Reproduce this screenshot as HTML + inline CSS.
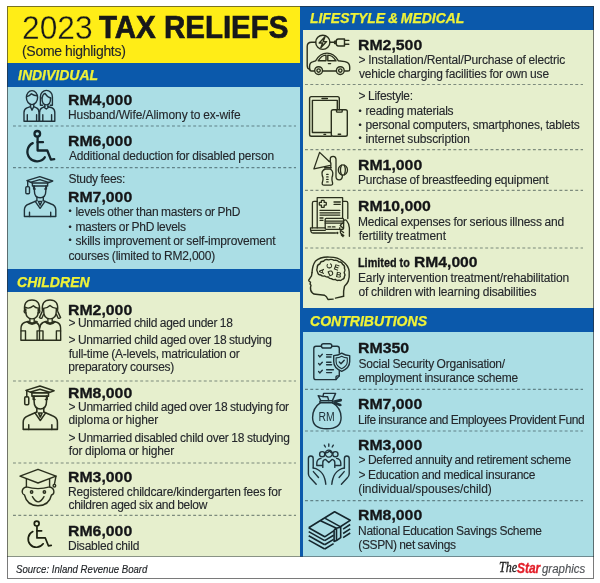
<!DOCTYPE html>
<html lang="en">
<head>
<meta charset="utf-8">
<title>2023 Tax Reliefs</title>
<style>
html,body{margin:0;padding:0;background:#fff;}
body{width:600px;height:583px;position:relative;overflow:hidden;font-family:"Liberation Sans",sans-serif;color:#1d1d1f;}
.frame{position:absolute;left:7px;top:6px;width:587px;height:572.6px;box-sizing:border-box;border:1px solid rgba(40,40,40,.62);z-index:5;}
.blue{position:absolute;left:7px;top:6px;width:587px;height:550.5px;background:#0b59ab;}
.p{position:absolute;}
.yel{left:7px;top:6px;width:293px;height:56.5px;background:#ffed17;}
.lb1{left:7px;top:86.6px;width:293px;height:182.4px;background:#abdee5;}
.lg1{left:7px;top:292px;width:293px;height:264.5px;background:#e6efcd;}
.lg2{left:303px;top:30px;width:291px;height:278px;background:#e6efcd;}
.lb2{left:303px;top:332px;width:291px;height:224.5px;background:#abdee5;}
.foot{left:7px;top:556px;width:587px;height:1px;background:rgba(60,70,75,.55);}
.t{position:absolute;white-space:pre;line-height:1;transform-origin:0 0;}
.r{font-weight:400;color:#24272b;word-spacing:-0.36px;-webkit-text-stroke:0.12px #24272b;}
.b{font-weight:700;color:#141517;-webkit-text-stroke:0.3px #141517;}
.bk{font-weight:700;color:#17181a;-webkit-text-stroke:0.7px #17181a;}
.lt{font-weight:400;color:#17181a;-webkit-text-stroke:0.35px #ffed17;}
.bi{font-weight:700;font-style:italic;word-spacing:-1px;color:#eff238;-webkit-text-stroke:0.25px #eff238;}
.i{font-style:italic;color:#1d2024;-webkit-text-stroke:0.15px #1d2024;}
.the{font-style:italic;font-family:"Liberation Serif",serif;color:#1a1a1a;-webkit-text-stroke:0.3px #1a1a1a;}
.star{font-weight:700;font-style:italic;color:#e3202b;-webkit-text-stroke:0.35px #e3202b;}
.gr{font-style:italic;color:#4d5054;-webkit-text-stroke:0.15px #4d5054;}
.bu{display:inline-block;width:.47em;font-size:.75em;vertical-align:.14em;letter-spacing:0}
svg.dl line{stroke:#1c3034;stroke-opacity:.52;stroke-width:1.2;stroke-dasharray:2.9 2.4;fill:none;}
svg.ic{position:absolute;overflow:visible;fill:none;stroke:#1f2326;stroke-width:1.4;stroke-linecap:round;stroke-linejoin:round;}
</style>
</head>
<body>
<div class="blue"></div>
<div class="p yel"></div>
<div class="p lb1"></div>
<div class="p lg1"></div>
<div class="p lg2"></div>
<div class="p lb2"></div>
<div class="p foot"></div>
<svg class="dl" width="600" height="583" viewBox="0 0 600 583" style="position:absolute;left:0;top:0"><line x1="13" y1="126" x2="296" y2="126"/><line x1="13" y1="167.7" x2="296" y2="167.7"/><line x1="13" y1="381" x2="296" y2="381"/><line x1="13" y1="463" x2="296" y2="463"/><line x1="13" y1="515.3" x2="296" y2="515.3"/><line x1="305" y1="84.5" x2="583" y2="84.5"/><line x1="305" y1="149.7" x2="583" y2="149.7"/><line x1="305" y1="190.4" x2="583" y2="190.4"/><line x1="305" y1="248" x2="583" y2="248"/><line x1="305" y1="389.4" x2="583" y2="389.4"/><line x1="305" y1="431" x2="583" y2="431"/><line x1="305" y1="500.6" x2="583" y2="500.6"/></svg>
<div class="t lt" style="left:22.07px;top:10.90px;font-size:33px;transform:scaleX(0.9609)">2023</div>
<div class="t bk" style="left:99.46px;top:11.50px;font-size:30.5px;transform:scaleX(0.9666)">TAX RELIEFS</div>
<div class="t r" style="left:22.00px;top:43.50px;font-size:14px;letter-spacing:-0.297px">(Some highlights)</div>
<div class="t bi" style="left:17.76px;top:67.80px;font-size:14.8px;transform:scaleX(0.9461)">INDIVIDUAL</div>
<div class="t b" style="left:67.95px;top:91.70px;font-size:15px;transform:scaleX(1.0549)">RM4,000</div>
<div class="t r" style="left:68.00px;top:108.70px;font-size:12px;letter-spacing:-0.092px">Husband/Wife/Alimony to ex-wife</div>
<div class="t b" style="left:67.95px;top:132.80px;font-size:15px;transform:scaleX(1.0549)">RM6,000</div>
<div class="t r" style="left:69.00px;top:149.80px;font-size:12px;letter-spacing:-0.178px">Additional deduction for disabled person</div>
<div class="t r" style="left:68.50px;top:173.40px;font-size:12px;letter-spacing:-0.280px">Study fees:</div>
<div class="t b" style="left:67.95px;top:188.50px;font-size:15px;transform:scaleX(1.0549)">RM7,000</div>
<div class="t r" style="left:68.50px;top:205.70px;font-size:12px;letter-spacing:-0.258px"><span class="bu">•</span> levels other than masters or PhD</div>
<div class="t r" style="left:68.50px;top:221.10px;font-size:12px;letter-spacing:-0.286px"><span class="bu">•</span> masters or PhD levels</div>
<div class="t r" style="left:68.50px;top:234.50px;font-size:12px;letter-spacing:-0.187px"><span class="bu">•</span> skills improvement or self-improvement</div>
<div class="t r" style="left:68.50px;top:249.90px;font-size:12px;letter-spacing:-0.204px">courses (limited to RM2,000)</div>
<div class="t bi" style="left:17.29px;top:275.00px;font-size:14.8px;transform:scaleX(0.9505)">CHILDREN</div>
<div class="t b" style="left:67.95px;top:302.00px;font-size:15px;transform:scaleX(1.0549)">RM2,000</div>
<div class="t r" style="left:68.50px;top:316.50px;font-size:12px;letter-spacing:-0.298px">&gt; Unmarried child aged under 18</div>
<div class="t r" style="left:68.50px;top:333.50px;font-size:12px;letter-spacing:-0.270px">&gt; Unmarried child aged over 18 studying</div>
<div class="t r" style="left:68.75px;top:348.00px;font-size:12px;letter-spacing:-0.243px">full-time (A-levels, matriculation or</div>
<div class="t r" style="left:68.25px;top:360.50px;font-size:12px;letter-spacing:-0.224px">preparatory courses)</div>
<div class="t b" style="left:67.95px;top:384.70px;font-size:15px;transform:scaleX(1.0549)">RM8,000</div>
<div class="t r" style="left:68.50px;top:400.70px;font-size:12px;letter-spacing:-0.238px">&gt; Unmarried child aged over 18 studying for</div>
<div class="t r" style="left:68.50px;top:414.30px;font-size:12px;letter-spacing:-0.141px">diploma or higher</div>
<div class="t r" style="left:68.50px;top:432.00px;font-size:12px;letter-spacing:-0.244px">&gt; Unmarried disabled child over 18 studying</div>
<div class="t r" style="left:68.75px;top:444.50px;font-size:12px;letter-spacing:-0.175px">for diploma or higher</div>
<div class="t b" style="left:67.95px;top:469.30px;font-size:15px;transform:scaleX(1.0549)">RM3,000</div>
<div class="t r" style="left:68.00px;top:486.00px;font-size:12px;letter-spacing:-0.195px">Registered childcare/kindergarten fees for</div>
<div class="t r" style="left:68.50px;top:499.00px;font-size:12px;letter-spacing:-0.298px">children aged six and below</div>
<div class="t b" style="left:67.95px;top:522.50px;font-size:15px;transform:scaleX(1.0549)">RM6,000</div>
<div class="t r" style="left:68.00px;top:540.00px;font-size:12px;letter-spacing:-0.231px">Disabled child</div>
<div class="t i" style="left:16.36px;top:564.00px;font-size:11px;transform:scaleX(0.8732)">Source: Inland Revenue Board</div>
<div class="t the" style="left:498.69px;top:560.30px;font-size:15px;transform:scaleX(0.8095)">The</div>
<div class="t star" style="left:516.80px;top:560.30px;font-size:15px;transform:scaleX(0.7966)">Star</div>
<div class="t gr" style="left:541.50px;top:563.30px;font-size:12.5px;transform:scaleX(0.9149)">graphics</div>
<div class="t bi" style="left:309.76px;top:10.80px;font-size:14.8px;transform:scaleX(0.9401)">LIFESTYLE &amp; MEDICAL</div>
<div class="t b" style="left:357.95px;top:37.00px;font-size:15px;transform:scaleX(1.0549)">RM2,500</div>
<div class="t r" style="left:358.50px;top:54.20px;font-size:12px;letter-spacing:-0.159px">&gt; Installation/Rental/Purchase of electric</div>
<div class="t r" style="left:359.00px;top:67.50px;font-size:12px;letter-spacing:-0.164px">vehicle charging facilities for own use</div>
<div class="t r" style="left:358.50px;top:89.70px;font-size:12px;letter-spacing:-0.250px">&gt; Lifestyle:</div>
<div class="t r" style="left:358.50px;top:105.00px;font-size:12px;letter-spacing:-0.222px"><span class="bu">•</span> reading materials</div>
<div class="t r" style="left:358.50px;top:119.40px;font-size:12px;letter-spacing:-0.207px"><span class="bu">•</span> personal computers, smartphones, tablets</div>
<div class="t r" style="left:358.50px;top:132.70px;font-size:12px;letter-spacing:-0.136px"><span class="bu">•</span> internet subscription</div>
<div class="t b" style="left:357.95px;top:156.60px;font-size:15px;transform:scaleX(1.0549)">RM1,000</div>
<div class="t r" style="left:358.00px;top:174.40px;font-size:12px;letter-spacing:-0.228px">Purchase of breastfeeding equipment</div>
<div class="t b" style="left:357.95px;top:198.30px;font-size:15px;transform:scaleX(1.0519)">RM10,000</div>
<div class="t r" style="left:358.00px;top:216.20px;font-size:12px;letter-spacing:-0.192px">Medical expenses for serious illness and</div>
<div class="t r" style="left:358.75px;top:230.20px;font-size:12px;letter-spacing:-0.056px">fertility treatment</div>
<div class="t b" style="left:358.32px;top:256.70px;font-size:12px;transform:scaleX(0.9036)">Limited to</div>
<div class="t b" style="left:413.66px;top:253.70px;font-size:15px;transform:scaleX(1.0430)">RM4,000</div>
<div class="t r" style="left:358.00px;top:272.20px;font-size:12px;letter-spacing:-0.149px">Early intervention treatment/rehabilitation</div>
<div class="t r" style="left:358.50px;top:286.00px;font-size:12px;letter-spacing:-0.147px">of children with learning disabilities</div>
<div class="t bi" style="left:310.29px;top:314.30px;font-size:14.8px;transform:scaleX(0.9489)">CONTRIBUTIONS</div>
<div class="t b" style="left:357.94px;top:339.60px;font-size:15px;transform:scaleX(1.0588)">RM350</div>
<div class="t r" style="left:358.50px;top:358.30px;font-size:12px;letter-spacing:-0.241px">Social Security Organisation/</div>
<div class="t r" style="left:358.50px;top:371.60px;font-size:12px;letter-spacing:-0.221px">employment insurance scheme</div>
<div class="t b" style="left:357.95px;top:395.70px;font-size:15px;transform:scaleX(1.0549)">RM7,000</div>
<div class="t r" style="left:358.00px;top:414.20px;font-size:12px;letter-spacing:-0.405px">Life insurance and Employees Provident Fund</div>
<div class="t b" style="left:357.95px;top:436.50px;font-size:15px;transform:scaleX(1.0549)">RM3,000</div>
<div class="t r" style="left:358.50px;top:453.80px;font-size:12px;letter-spacing:-0.276px">&gt; Deferred annuity and retirement scheme</div>
<div class="t r" style="left:358.50px;top:469.00px;font-size:12px;letter-spacing:-0.273px">&gt; Education and medical insurance</div>
<div class="t r" style="left:358.25px;top:483.00px;font-size:12px;letter-spacing:-0.020px">(individual/spouses/child)</div>
<div class="t b" style="left:357.95px;top:506.80px;font-size:15px;transform:scaleX(1.0549)">RM8,000</div>
<div class="t r" style="left:358.00px;top:525.00px;font-size:12px;letter-spacing:-0.281px">National Education Savings Scheme</div>
<div class="t r" style="left:358.25px;top:539.30px;font-size:12px;letter-spacing:-0.368px">(SSPN) net savings</div>
<svg class="ic" width="600" height="583" viewBox="0 0 600 583" style="left:0;top:0">
<defs>
<g id="wheel">
 <circle cx="37.3" cy="133.8" r="2.8"/>
 <path d="M37.6 137 V150.5 H47.3 L50.9 159.6 L54.2 159.2"/>
 <path d="M37.6 142.2 H43"/>
 <path d="M32.75 143.1 A9.6 9.6 0 1 0 44.8 157.3"/>
</g>
<g id="grad">
 <path d="M26.9 180.7 L39.8 176.7 L52.7 181 L47.6 183 H32.4 Z"/>
 <path d="M31.2 182.2 L39.8 179.6 L48.6 182.4"/>
 <path d="M32.4 183 V186 H47.6 V183"/>
 <path d="M27.7 181.2 V186.6"/>
 <rect x="25.8" y="186.6" width="3.7" height="7.2" rx="1.1"/>
 <path d="M33.6 186.3 V189 H35.2 M46.4 186.3 V189 H44.8"/>
 <path d="M34.4 186 V191 Q34.4 197.8 40.1 197.8 Q45.8 197.8 45.8 191 V186"/>
 <path d="M36.9 197 V200.6 M43.3 197 V200.6"/>
 <path d="M36.9 200.6 L29 204 Q24.4 205.6 24.4 210 V216.5 H55.8 V210 Q55.8 205.6 51.2 204 L43.3 200.6"/>
 <path d="M35.2 201.4 L40.1 208.3 L45 201.4"/>
 <path d="M38.4 201.4 L40.1 205.2 L41.8 201.4 Z"/>
 <path d="M29.5 212.3 V216.5 M50.7 212.3 V216.5"/>
</g>
</defs>

<!-- couple -->
<g stroke="#20323a">
 <ellipse cx="32" cy="97.6" rx="5.6" ry="7"/>
 <path d="M26.6 96.6 Q29.6 96 31.4 93.8 Q34 95.6 37.4 95.8"/>
 <path d="M30.5 104.4 V106.7 L32 110.2 L33.7 106.7 V104.4"/>
 <path d="M30.5 106.7 L27 107.8 Q24 109 24 112.5 V121.3 H39 V112.5 Q39 109 36.5 107.8 L33.7 106.7"/>
 <path d="M27.3 114.7 V121.3 M36.6 114.7 V121.3"/>
 <path d="M40.4 105.3 V96.8 A6 6.4 0 0 1 52.4 96.8 V105.3 M40.4 105.3 H42.6 M52.4 105.3 H50.2"/>
 <path d="M42 98 Q42 104.9 46.3 104.9 Q50.6 104.9 50.6 98"/>
 <path d="M42 98 Q42.8 94 45 93.4 Q47.2 97.2 50.6 98"/>
 <path d="M44.8 104.6 V106.7 M47.9 104.6 V106.7"/>
 <path d="M44.8 106.7 L42 107.8 Q39.6 109 39.6 112.5 V121.3 H54.8 V112.5 Q54.8 109 52 107.8 L47.9 106.7"/>
 <path d="M44 107.2 L46.3 109 L48.6 107.2"/>
 <path d="M42.8 114.7 V121.3 M51.6 114.7 V121.3"/>
</g>

<!-- wheelchair big -->
<use href="#wheel" stroke="#15262d" stroke-width="2.3"/>

<!-- graduate 1 -->
<use href="#grad" stroke="#20323a"/>

<!-- kids -->
<g stroke="#2a2f1d">
 <path d="M24.6 310.5 Q23.4 300 32 300 Q40.4 300 39.5 310.5"/>
 <path d="M25.7 309 V311 Q25.7 318.9 32 318.9 Q38.3 318.9 38.3 311 V309"/>
 <path d="M24.9 307.2 Q29 309.6 33.4 305.8 Q36 308.6 39.2 308"/>
 <path d="M25.7 310 Q24 310 24.2 311.8 Q24.5 313.2 26 313 M38.3 310 Q40 310 39.8 311.8 Q39.5 313.2 38 313"/>
 <path d="M29.9 318.4 V321.4 M34.2 318.4 V321.4"/>
 <path d="M27 321.8 Q32 327 37.2 321.8 M28.6 321.4 Q32 324.6 35.6 321.4"/>
 <path d="M28 321.3 L24.5 322.5 Q21.2 324 21 328 L20.9 340.3 H39.5 V328 Q39.3 324 36.3 322.5 L36 321.3"/>
 <path d="M21.2 330.9 H25.4 M37 330.9 H39.5 M25.5 330.9 V340.3 M37.1 330.9 V340.3"/>
 <path d="M42.4 310.5 Q41.2 300 50 300 Q58.8 300 57.6 310.5"/>
 <path d="M43.7 309 V311 Q43.7 318.9 50 318.9 Q56.3 318.9 56.3 311 V309"/>
 <path d="M43 308.4 Q47 308.6 50 305.6 Q53 308.6 57 308.4"/>
 <path d="M42.2 311.6 L39.4 317.6 Q40.6 318.8 41.8 318.2 L43.6 314.2 M57.8 311.6 L60.6 317.6 Q59.4 318.8 58.2 318.2 L56.4 314.2"/>
 <path d="M47.9 318.4 V321.4 M52.2 318.4 V321.4"/>
 <path d="M45 321.8 Q50 327 55.2 321.8 M46.6 321.4 Q50 324.6 53.6 321.4"/>
 <path d="M46 321.3 L43 322.5 Q40 324 39.8 328 M54 321.3 L57.4 322.5 Q60.5 324 60.6 328 L60.7 340.3 H39.5"/>
 <path d="M39.8 330.9 H43 M56.4 330.9 H60.6 M43 330.9 V340.3 M56.4 330.9 V340.3"/>
</g>

<!-- graduate 2 -->
<use href="#grad" stroke="#2a2f1d" transform="translate(40.2 386) scale(1.09) translate(-40 -176.7)"/>

<!-- kid with cap -->
<g stroke="#2a2f1d">
 <path d="M20 476.2 L38 469.3 L56 476.2 L38 483 Z"/>
 <path d="M26.4 478.8 V486.9 Q38 490.4 49.6 486.9 V478.8"/>
 <path d="M56 476.2 L54.4 484.3"/>
 <circle cx="54.4" cy="485.7" r="1.3"/>
 <path d="M26.4 487 Q22 488 22.2 492 Q22.5 494.6 24.5 495 Q27 505.7 38 505.7 Q49 505.7 51.5 495 Q53.7 494.6 53.9 492 Q54 488 49.6 487"/>
 <circle cx="31.6" cy="492" r="1.2"/>
 <circle cx="44.4" cy="492" r="1.2"/>
 <path d="M32.4 496.7 Q38.2 507 44 496.7"/>
</g>

<!-- wheelchair small -->
<use href="#wheel" stroke="#1c200f" stroke-width="2" transform="translate(36.7 523.6) scale(0.86) translate(-37.3 -133.8)"/>

<!-- EV car -->
<g stroke="#2a2f1d">
 <circle cx="322.8" cy="42.3" r="7.1"/>
 <path d="M325 36.8 L319.2 43 H322.6 L320.8 47.8 L326.6 41.6 H323.2 Z"/>
 <path d="M315.7 42.3 H311.5 Q307.2 42.3 307.2 46.5 V65.5 Q307.2 69 309.8 69.3"/>
 <path d="M329.9 42.3 H334.6"/>
 <rect x="334.6" y="41.2" width="1.6" height="2.4"/>
 <path d="M336.2 41.2 Q336.2 39 338.4 39 H344.5 V46 H338.4 Q336.2 46 336.2 43.6 Z"/>
 <path d="M344.5 40.4 H348.8 M344.5 44.3 H348.8"/>
 <path d="M315.6 60.8 Q320 53.1 327 53.1 Q334 53.1 338.4 60.8 L345 61.6 Q349.7 62.6 349.7 67 V69.4 Q349.7 71 348 71 H311.5 Q309.6 71 309.6 69 V66 Q309.6 62.6 313.2 61.6 Z"/>
 <path d="M318.2 60.8 Q321.6 55.1 326 55.1 V60.8 Z M327.8 55.1 Q332.6 55.1 336 60.8 H327.8 Z"/>
 <path d="M328.4 63.6 H330.6"/>
 <circle cx="318.6" cy="70.6" r="3.9" fill="#e6efcd"/>
 <circle cx="318.6" cy="70.6" r="1.7"/>
 <circle cx="340.3" cy="70.6" r="3.9" fill="#e6efcd"/>
 <circle cx="340.3" cy="70.6" r="1.7"/>
</g>

<!-- tablet + phone -->
<g stroke="#2a2f1d" stroke-width="1.4">
 <path d="M339.3 109.8 V98.4 Q339.3 96.6 337.5 96.6 H311.4 Q309.6 96.6 309.6 98.4 V134.4 Q309.6 136.2 311.4 136.2 H331.3"/>
 <path d="M337.3 109.8 V100.4 H312.4 V132.5 H331.3"/>
 <path d="M322 98.5 H327.4 M324 134.4 H325.6"/>
 <rect x="331.3" y="109.8" width="16" height="26.4" rx="1.8"/>
 <path d="M336.5 109.8 V111.2 Q336.5 112.1 337.4 112.1 H341.3 Q342.2 112.1 342.2 111.2 V109.8"/>
 <path d="M338.2 134.2 H340.6"/>
</g>

<!-- breast pump -->
<g stroke="#2a2f1d" stroke-width="1.3">
 <path d="M319.6 152.4 L313.9 168.9 L330.4 165.4 M319.6 152.4 L329 161.2"/>
 <path d="M329 161.2 Q331.2 162 330.9 164.6 L330.7 167.6"/>
 <path d="M324.6 167.7 H331.2 M324.9 169.2 H330.9"/>
 <path d="M325 169.2 Q322 170.6 322 173 Q322 175.6 323 177.6 Q323.3 180 322.2 183 Q322 185.2 324 185.2 H330.8 Q332.8 185.2 332.6 183 Q331.6 180 332 177.6 Q332.8 175.6 332.8 173 Q332.8 170.6 330.6 169.2"/>
 <path d="M326.7 174.4 H328.1 M326.7 176.9 H328.1 M326.7 179.4 H328.1 M326.7 181.9 H328.1"/>
 <path d="M330.3 161.5 V158.6 Q330.3 156.3 333.1 156.3 Q336 156.3 336 159.5 V176.5 Q336 179.8 339.1 179.8 Q342.3 179.8 342.5 175.2"/>
 <ellipse cx="342.9" cy="170" rx="4.6" ry="5.1"/>
 <path d="M341.5 165.2 Q339.4 170 341.5 174.8 M344.3 165.2 Q346.4 170 344.3 174.8"/>
</g>

<!-- medical bill -->
<g stroke="#2a2f1d" stroke-width="1.3">
 <path d="M317.2 201.4 H314 Q312.4 201.4 312.4 203 V227.8 M342.6 201.4 H346.2 Q347.8 201.4 347.8 203 V218.6"/>
 <path d="M310.5 227.8 H325.2 M310.5 227.8 Q310.3 233 313 233 H335.5 M311 230.4 H325.2"/>
 <circle cx="337.3" cy="233" r=".5"/>
 <path d="M317.2 227.8 V197.7 H342.6 V218.4"/>
 <path d="M321.8 200.3 H323.8 Q324.2 200.3 324.2 200.7 V202.4 H325.9 Q326.3 202.4 326.3 202.8 V204.8 Q326.3 205.2 325.9 205.2 H324.2 V206.9 Q324.2 207.3 323.8 207.3 H321.8 Q321.4 207.3 321.4 206.9 V205.2 H319.7 Q319.3 205.2 319.3 204.8 V202.8 Q319.3 202.4 319.7 202.4 H321.4 V200.7 Q321.4 200.3 321.8 200.3 Z"/>
 <path d="M334 202 H340.3 M334 204.3 H340.3"/>
 <path d="M320 210.4 H339.8 M320 212.8 H339.8 M320 215.1 H339.8 M320 218 H323 M320 220.3 H323"/>
 <rect x="325.2" y="218.4" width="18.4" height="10.9" rx="1"/>
 <path d="M325.2 221.2 H343.6 M325.2 223.1 H343.6 M328 226.9 H330.6 M332.4 226.9 H335"/>
 <path d="M343.6 220.6 Q345.4 219 346.6 220.6 Q349.4 224 349.4 228 V236.3"/>
 <path d="M343.6 222.6 Q341.4 223.4 340.2 225.6 L343.4 228.4 M339.8 227.6 Q339.4 229 340.2 230 L343.6 232.6 M340.4 231.4 Q340.2 232.8 341 233.6 L343.8 235.6 M341.4 235 L343 236.6"/>
</g>

<!-- head with brain -->
<g stroke="#2a2f1d">
 <path d="M312 272.6 Q312.5 265 315.3 261.3 Q320.5 256.6 329.4 257.1 Q338 257 342.6 261.3 Q348.6 265.5 349.2 271.7 Q349.6 277 348.3 281.1 Q347 284 344.5 286.3 Q343.2 291 343.6 296.2"/>
 <path d="M312 272.6 L311.5 275.9 L308.7 280.2 Q308.8 281.6 310.5 282.1 L310.1 284 L311 285.4 L310.5 287.3 Q310.2 291.5 312.4 292.9 Q313.8 294.2 315.7 294.3 L324.7 295.3 Q326.5 296 328 299.5 L333.2 299.1 M335.5 298.1 L343.6 296.2"/>
 <path d="M317.2 267.9 Q317 264.6 319.8 264 Q320.4 261 323.5 261.2 Q325.4 258.8 328.6 259.9 Q331.4 258.6 334.1 260.4 Q337.2 259.6 338.8 261.8 Q342 261.8 342.6 264.4 Q345.2 265.6 344.4 268.2 Q345.8 270.4 344.2 272.6 Q345.6 274.8 344.4 276.6 Q344.4 279.2 342.2 279.4 Q340.8 281.2 339 280.2 Q336.8 281 335.1 279.3 Q332.8 280.2 331.3 278.6 Q329 278.8 328.4 276.9 Q326 277.4 324.7 275.9 Q322.2 276.6 320.9 275 Q318.2 275 317.7 272.6 Q316 270.4 317.2 267.9 Z"/>
</g>
<g fill="#2a2f1d" stroke="none" font-family="Liberation Sans, sans-serif" font-weight="700" font-size="7.8" text-anchor="middle">
 <text transform="translate(321.6 271.4) rotate(-90)" x="0" y="2.6">A</text>
 <text transform="translate(329.4 266) rotate(-100)" x="0" y="2.6">C</text>
 <text transform="translate(336.6 267.4) rotate(20)" x="0" y="2.6">E</text>
 <text transform="translate(330.8 273.2) rotate(-25)" x="0" y="2.6">D</text>
 <text transform="translate(338.6 275) rotate(10)" x="0" y="2.6">B</text>
</g>

<!-- clipboard + shield -->
<g stroke="#20323a" stroke-width="1.4">
 <path d="M321.4 346.2 H316 Q313.8 346.2 313.8 348.4 V377.4 Q313.8 379.6 316 379.6 H336 L339.3 375.9 V370.4 M331.8 346.2 H337.1 Q339.3 346.2 339.3 348.4 V353"/>
 <path d="M336 379.6 V377 Q336 375.9 337.2 375.9 H339.3"/>
 <rect x="321.4" y="343.8" width="10.4" height="4.2" rx="2.1"/>
 <path d="M318.6 355.6 l1.3 1.3 l2.4 -2.7 M318.6 363.6 l1.3 1.3 l2.4 -2.7 M318.6 371.6 l1.3 1.3 l2.4 -2.7"/>
 <path d="M326.6 354.6 H331.8 M326.6 357 H331 M326.6 362.3 H331 M326.6 364.8 H331.6 M326.6 369.8 H333.4 M326.6 372.6 H331.6"/>
 <path d="M341.7 353.2 Q345.5 355.6 349.7 355.6 V361.5 Q349.7 368 341.7 371.4 Q333.7 368 333.7 361.5 V355.6 Q338 355.6 341.7 353.2 Z"/>
 <path d="M341.7 356.2 Q344.4 357.8 347.3 357.9 V361.6 Q347.3 366.2 341.7 368.7 Q336.1 366.2 336.1 361.6 V357.9 Q339 357.8 341.7 356.2 Z" stroke-width="1.1"/>
 <path d="M339.3 362 l1.7 1.8 l3.2 -3.6"/>
</g>

<!-- money bag -->
<g stroke="#20323a">
 <path d="M320.5 402.6 Q312.6 408 312.6 417.5 Q312.6 428.8 326.8 428.8 Q341.1 428.8 341.1 417.5 Q341.1 408 332.5 402.6"/>
 <rect x="319.8" y="400.8" width="12.8" height="1.9" rx=".9"/>
 <path d="M320.8 400.6 L318.2 395.6 L323 396.6 L323.6 393.4 L335.6 393.4 L332.4 400.6"/>
 <path d="M323 396.6 L327.6 396.8 L328.8 400.6"/>
 <path d="M332.6 401.4 L340.5 399.5 Q342 399.6 341 400.8 L334.4 402.4 L340.5 404.5 Q341.8 405.5 340 405.6 L332.6 403"/>
</g>
<text x="326.7" y="420.6" font-family="Liberation Sans, sans-serif" font-size="12" text-anchor="middle" fill="#20323a" stroke="none" textLength="16.2" lengthAdjust="spacingAndGlyphs">RM</text>

<!-- hands + people -->
<g stroke="#20323a">
 <g id="hand">
  <path d="M313.2 468 V458.4 Q313.2 456 310.8 456 Q308.4 456 308.4 458.4 V474 Q308.6 476.5 310.2 477.8 L316.2 484.2"/>
  <path d="M313.2 468 Q316 468.2 318.5 470 Q323 473 324.5 478 Q325.5 481 325.8 484.2"/>
  <path d="M313.4 471.6 L318.5 477.5"/>
 </g>
 <use href="#hand" transform="translate(657.6 0) scale(-1 1)"/>
 <circle cx="322.2" cy="454.2" r="2.6"/>
 <circle cx="335.4" cy="454.2" r="2.6"/>
 <circle cx="328.8" cy="453.6" r="3.5" fill="#abdee5"/>
 <path d="M325.4 453 Q328 452.8 329.6 451 Q331 452.8 332.2 453"/>
 <path d="M322.8 467.4 V462.6 Q322.8 459.8 325.6 459.4 L328.8 462.6 L332 459.4 Q334.8 459.8 334.8 462.6 V467.4"/>
 <path d="M321 458.4 Q317 459 316.8 463 V465.5 H322.4 M336.6 458.4 Q340.6 459 340.8 463 V465.5 H335.2"/>
 <path d="M328.8 444 V446.2 M324.3 445.2 L325.4 447 M333.3 445.2 L332.2 447"/>
</g>

<!-- cash stack -->
<g stroke="#15262d" stroke-width="1.6" stroke-linecap="butt">
 <path d="M308.7 527.8 L334.6 511.8 L350.2 520.3 L340.7 526.5 M334.1 530.6 L324.7 536.8 L308.7 527.8"/>
 <path d="M308.7 531.6 L324.7 540.6 M308.7 535.8 L324.7 544.8 M308.7 540.1 L324.7 549"/>
 <path d="M324.7 540.6 L333.6 535.2 M324.7 544.8 L333.6 539.4 M324.7 549 L333.6 543.6"/>
 <path d="M343.1 529.2 L350.2 524.5 M343.1 533.5 L350.2 528.8 M343.1 537.7 L350.2 533"/>
 <path d="M320.5 520.8 L336.5 528.3 M325.2 518.4 L340.7 526.9"/>
 <path d="M334.1 529.7 V541.5 L336.5 540.6 L340.7 537.7 V526.9 L336.5 528.3 M336.5 528.3 V540.6 M334.1 529.7 L336.5 528.3"/>
</g>
</svg>

<div class="frame"></div>
</body>
</html>
